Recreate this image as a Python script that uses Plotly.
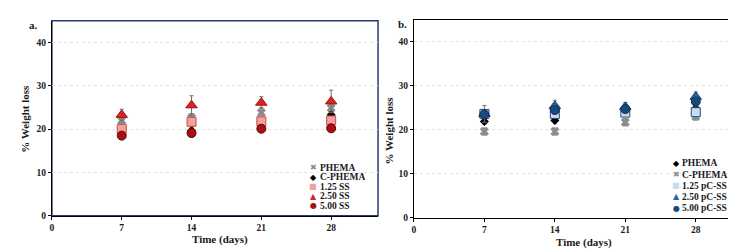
import plotly.graph_objects as go

days = [7, 14, 21, 28]

# Panel a
a_names = ["PHEMA", "C-PHEMA", "1.25 SS", "2.50 SS", "5.00 SS"]
a_phema = [22.0, 22.6, 23.8, 24.9]
a_phema_err = [1.0, 1.0, 1.2, 1.0]
a_cphema = [20.2, 19.7, 21.0, 23.3]
a_cphema_err = [0.8, 0.8, 0.8, 0.8]
a_125 = [20.1, 21.7, 21.8, 22.0]
a_125_err = [1.0, 1.0, 0.8, 0.8]
a_250 = [23.3, 25.5, 26.1, 26.4]
a_250_err = [1.3, 2.2, 1.4, 2.6]
a_500 = [18.5, 19.1, 20.1, 20.2]
a_500_err = [0.6, 0.9, 0.6, 0.5]

# Panel b
b_names = ["PHEMA", "C-PHEMA", "1.25 pC-SS", "2.50 pC-SS", "5.00 pC-SS"]
b_phema = [21.9, 22.1, 24.0, 24.9]
b_phema_err = [0.6, 0.6, 0.6, 0.6]
b_cphema = [19.6, 19.6, 21.7, 23.0]
b_cphema_err = [0.8, 0.8, 0.8, 0.8]
b_125 = [23.6, 23.6, 23.9, 24.0]
b_125_err = [1.0, 1.0, 0.8, 0.8]
b_250 = [23.6, 25.4, 25.2, 27.5]
b_250_err = [1.9, 1.3, 1.0, 1.1]
b_500 = [23.5, 24.5, 24.7, 26.4]
b_500_err = [1.0, 1.0, 0.8, 1.0]

y_ticks = [0, 10, 20, 30, 40]
x_ticks = [0, 7, 14, 21, 28]

FONT = "Liberation Serif"

fig = go.Figure()

def add(x, y, err, sym, fill, line, size, xa, ya, lw=1):
    fig.add_trace(go.Scatter(
        x=x, y=y, mode="markers", xaxis=xa, yaxis=ya, showlegend=False,
        marker=dict(symbol=sym, color=fill, size=size, line=dict(color=line, width=lw)),
        error_y=dict(type="data", array=err, color="#707070", thickness=1, width=2),
    ))

# panel a traces
add(days, a_phema, a_phema_err, "x", "#8c8c8c", "#8c8c8c", 8, "x", "y", 0)
add(days, a_cphema, a_cphema_err, "diamond", "#000000", "#000000", 7, "x", "y", 0)
add(days, a_125, a_125_err, "square", "#f2a0a0", "#c0504d", 9, "x", "y")
add(days, a_250, a_250_err, "triangle-up", "#d92424", "#a01010", 10, "x", "y")
add(days, a_500, a_500_err, "circle", "#a50f15", "#6a0000", 9, "x", "y")

# panel b traces
add(days, b_phema, b_phema_err, "diamond", "#000000", "#000000", 7, "x2", "y2", 0)
add(days, b_cphema, b_cphema_err, "x", "#8c8c8c", "#8c8c8c", 8, "x2", "y2", 0)
add(days, b_125, b_125_err, "square", "#c9dcef", "#1f4e79", 9, "x2", "y2")
add(days, b_250, b_250_err, "triangle-up", "#2166a6", "#123c66", 10, "x2", "y2")
add(days, b_500, b_500_err, "circle", "#184a7e", "#0e2f52", 9, "x2", "y2")

axis_common = dict(
    showline=True, linecolor="#000000", linewidth=1.2, ticks="outside", ticklen=3,
    tickcolor="#000000", tickfont=dict(family=FONT, size=9.5, color="#1a1a1a", weight="bold"),
    zeroline=False,
)
grid = dict(showgrid=True, gridcolor="#e3e3e3", griddash="dot", gridwidth=1)

fig.update_layout(
    width=736, height=252, margin=dict(l=0, r=0, t=0, b=0),
    paper_bgcolor="white", plot_bgcolor="white",
    font=dict(family=FONT, color="#1a1a1a"),
    xaxis=dict(domain=[0.0571, 0.5014], range=[0, 32.7], tickvals=x_ticks, showgrid=False,
               anchor="y", **axis_common),
    yaxis=dict(domain=[0.1587, 0.948], range=[0, 45], tickvals=y_ticks,
               anchor="x", **grid, **axis_common),
    xaxis2=dict(domain=[0.5503, 0.9864], range=[0, 31.8], tickvals=x_ticks, showgrid=False,
                anchor="y2", mirror=True, **axis_common),
    yaxis2=dict(domain=[0.1508, 0.9524], range=[0, 45], tickvals=y_ticks,
                anchor="x2", mirror=True, **grid, **axis_common),
)

# navy frame around panel a
fig.add_shape(type="rect", xref="x domain", yref="y domain", x0=0, x1=1, y0=0, y1=1,
              line=dict(color="#2a3a6e", width=1.5), layer="below")

ann = []
tfont = dict(family=FONT, size=11, color="#1a1a1a", weight="bold")
# axis titles
ann.append(dict(text="Time (days)", x=211, y=236, font=tfont))
ann.append(dict(text="Time (days)", x=576, y=239, font=tfont))
ann.append(dict(text="% Weight loss", x=15, y=113, font=tfont, textangle=-90))
ann.append(dict(text="% Weight loss", x=380, y=125, font=tfont, textangle=-90))
# panel labels
ann.append(dict(text="a.", x=24, y=17, font=dict(family=FONT, size=11, color="#1a1a1a", weight="bold")))
ann.append(dict(text="b.", x=394, y=16, font=dict(family=FONT, size=11, color="#1a1a1a", weight="bold")))

# legends
lfont = dict(family=FONT, size=9.5, color="#1a1a1a", weight="bold")
a_sym = [("✖", "#8c8c8c"), ("◆", "#000000"), ("■", "#f2a0a0"), ("▲", "#d92424"), ("●", "#a50f15")]
b_sym = [("◆", "#000000"), ("✖", "#8c8c8c"), ("■", "#c9dcef"), ("▲", "#2166a6"), ("●", "#184a7e")]
for i, (name, (s, c)) in enumerate(zip(a_names, a_sym)):
    yy = 163 + i * 9.7
    ann.append(dict(text=f"<span style='color:{c};font-family:DejaVu Sans;font-size:8px'>{s}</span>",
                    x=304, y=yy, font=lfont))
    ann.append(dict(text=name, x=308.5, y=yy, xanchor="left", font=lfont))
for i, (name, (s, c)) in enumerate(zip(b_names, b_sym)):
    yy = 158.5 + i * 11.4
    ann.append(dict(text=f"<span style='color:{c};font-family:DejaVu Sans;font-size:8px'>{s}</span>",
                    x=668, y=yy, font=lfont))
    ann.append(dict(text=name, x=672, y=yy, xanchor="left", font=lfont))

for a in ann:
    a.setdefault("xanchor", "center")
    a["x"] = a["x"] / 736
    a["y"] = 1 - a["y"] / 252
    a.update(xref="paper", yref="paper", yanchor="middle", showarrow=False)
fig.update_layout(annotations=ann)

fig.write_html("out.html")
